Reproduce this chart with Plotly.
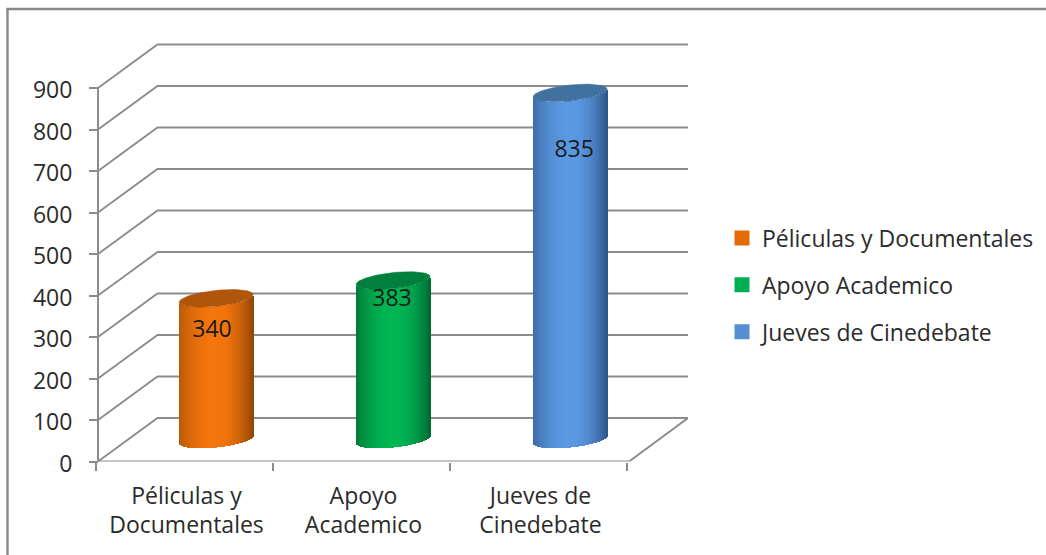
import numpy as np
import plotly.graph_objects as go

# ---- data ----
categories = ["Péliculas y Documentales", "Apoyo Academico", "Jueves de Cinedebate"]
tick_labels = ["Péliculas y<br>Documentales", "Apoyo<br>Academico", "Jueves de<br>Cinedebate"]
values = [340, 383, 835]
y_ticks = [0, 100, 200, 300, 400, 500, 600, 700, 800, 900]

# ---- style ----
W, H = 1046, 555
FONT = "Open Sans"
FS = 23
TXT = "#2b2b2b"
GRID = "#8c8c8c"
AX_L, AX_R, AX_B, AX_T = 98.0, 688.0, 461.5, 38.0
CAT_PX = 177.0
PX_PER_UNIT = 373.5 / 900
DEPTH_X, DEPTH_Y = 59.5, 43.5
dx_units = DEPTH_X / CAT_PX
dy_units = DEPTH_Y / PX_PER_UNIT
CENTER_SHIFT = 0.667
A_PX, B_PX, SHEAR = 37.0, 8.0, -0.105
BASE_PX = 22.0
base_units = BASE_PX / PX_PER_UNIT
edge_l = ["#b85a08", "#007a3a", "#3d6ca8"]
edge_r = ["#8f4706", "#006a32", "#2f5688"]
mid = ["#f5760d", "#00b653", "#5b99e3"]
cap = ["#b0560a", "#007f3d", "#41719f"]
legend_col = ["#e36c09", "#00b050", "#558ed5"]
label_nudge_y = [-25, 6, -87]
label_nudge_x = [-0.023, -0.006, 0.023]
TICK_NUDGE = -0.01
X_PAD = 0.03


def hex2rgb(h):
    return np.array([int(h[i:i + 2], 16) for i in (1, 3, 5)], dtype=float)


def shade(t, left, right, centre):
    e = hex2rgb(left if t < 0 else right)
    c = hex2rgb(centre)
    k = 1 - abs(t) ** 2.1
    r = e + (c - e) * k
    return "rgb(%d,%d,%d)" % tuple(r)


fig = go.Figure()

# floor + walls: gridlines on the primary axes
wall_end = (AX_R - AX_L) / CAT_PX
gx, gy = [], []
for v in y_ticks:
    gx += [0, dx_units, wall_end, None]
    gy += [v, v + dy_units, v + dy_units, None]
fig.add_trace(go.Scatter(x=gx, y=gy, mode="lines", line=dict(color=GRID, width=1.9),
                         cliponaxis=False, showlegend=False, hoverinfo="skip"))
# axis lines
fig.add_trace(go.Scatter(x=[0, 0, None, 0, 3, wall_end],
                         y=[y_ticks[-1], 0, None, 0, 0, dy_units],
                         mode="lines", line=dict(color=GRID, width=2),
                         cliponaxis=False, showlegend=False, hoverinfo="skip"))

# cylinders on an overlaying pair of axes, so they sit over the gridlines
n = int(2 * A_PX)
for i, v in enumerate(values):
    cx = i + CENTER_SHIFT
    t = (np.arange(n) + 0.5) / n * 2 - 1
    dpx = t * A_PX
    lower_px = B_PX * np.sqrt(1 - t ** 2) + SHEAR * dpx
    top = v + base_units - lower_px / PX_PER_UNIT
    bottom = base_units - lower_px / PX_PER_UNIT
    fig.add_trace(go.Bar(
        x=cx + dpx / CAT_PX, y=top - bottom, base=bottom,
        width=[1.5 / CAT_PX] * n,
        marker=dict(color=[shade(a, edge_l[i], edge_r[i], mid[i]) for a in t], line=dict(width=0)),
        xaxis="x2", yaxis="y2", showlegend=False, hoverinfo="skip"))
    th = np.linspace(0, 2 * np.pi, 90)
    ex = A_PX * np.cos(th)
    ey = B_PX * np.sin(th) + SHEAR * ex
    fig.add_trace(go.Scatter(
        x=cx + ex / CAT_PX, y=v + base_units - ey / PX_PER_UNIT,
        mode="lines", fill="toself", fillcolor=cap[i], line=dict(color=cap[i], width=0.5),
        xaxis="x2", yaxis="y2", showlegend=False, hoverinfo="skip"))

# data labels
fig.add_trace(go.Scatter(
    x=[i + CENTER_SHIFT + label_nudge_x[i] for i in range(3)],
    y=[v + label_nudge_y[i] for i, v in enumerate(values)],
    text=[str(v) for v in values], mode="text",
    textfont=dict(family=FONT, size=FS, color="#1a1a1a"),
    xaxis="x2", yaxis="y2", showlegend=False, hoverinfo="skip"))

# legend
for i, c in enumerate(categories):
    fig.add_trace(go.Scatter(
        x=[None], y=[None], name=c, mode="markers", legendgroup=c,
        marker=dict(symbol="square", size=15, color=legend_col[i], line=dict(width=0))))

xr = [-X_PAD, wall_end]
yr = [0, (AX_B - AX_T) / PX_PER_UNIT]
xdom = [(AX_L - X_PAD * CAT_PX) / W, AX_R / W]
ydom = [(H - AX_B) / H, (H - AX_T) / H]

fig.update_layout(
    width=W, height=H, margin=dict(l=0, r=0, t=0, b=0, autoexpand=False),
    paper_bgcolor="white", plot_bgcolor="white",
    barmode="overlay", bargap=0,
    font=dict(family=FONT, size=FS, color=TXT),
    xaxis=dict(domain=xdom, range=xr, showgrid=False, zeroline=False, showline=False,
               automargin=False,
               tickmode="array", tickvals=[0.5, 1.5, 2.5], ticktext=tick_labels,
               ticks="", ticklabelstandoff=18,
               minor=dict(tickmode="array",
                          tickvals=[k + TICK_NUDGE for k in range(4)], ticks="outside",
                          ticklen=8, tickwidth=2, tickcolor=GRID, showgrid=False)),
    yaxis=dict(domain=ydom, range=yr, showgrid=False, zeroline=False, showline=False,
               automargin=False, anchor="free", position=AX_L / W,
               tickmode="array", tickvals=y_ticks, ticks="outside", ticklen=9,
               tickwidth=2, tickcolor=GRID, ticklabelstandoff=12, ticklabelshift=2),
    xaxis2=dict(domain=xdom, range=xr, overlaying="x", visible=False),
    yaxis2=dict(domain=ydom, range=yr, overlaying="y", visible=False),
    legend=dict(x=722 / W, y=(H - 216.5) / H, xanchor="left", yanchor="top",
                tracegroupgap=14, itemsizing="trace", bgcolor="rgba(0,0,0,0)",
                font=dict(family=FONT, size=FS, color=TXT)),
    shapes=[dict(type="line", xref="paper", yref="paper", x0=7.5 / W, x1=7.5 / W, y0=0,
                 y1=(H - 9) / H, line=dict(color="#888888", width=2.4)),
            dict(type="line", xref="paper", yref="paper", x0=6.3 / W, x1=1, y0=(H - 9) / H,
                 y1=(H - 9) / H, line=dict(color="#888888", width=2.4))],
)

fig.write_html("out.html", config={"displayModeBar": False},
               post_script="document.body.style.margin='0';")
